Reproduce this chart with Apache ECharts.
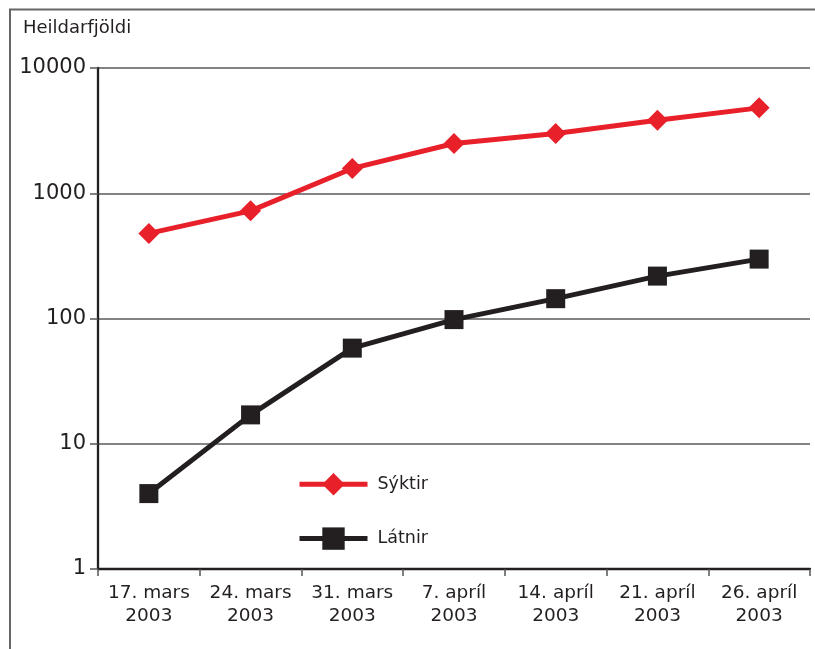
<!DOCTYPE html>
<html>
<head>
<meta charset="utf-8">
<script src="https://cdn.jsdelivr.net/npm/echarts@6/dist/echarts.min.js"></script>
<style>
  html, body { margin: 0; padding: 0; background: #fff; }
  #chart { width: 815px; height: 649px; }
</style>
</head>
<body>
<div id="chart"></div>
<script>
// Dates of the weekly reports (day + month, then year on a second line)
const dates = ['17. mars', '24. mars', '31. mars', '7. apríl', '14. apríl', '21. apríl', '26. apríl'];
const year = '2003';

// Cumulative totals
const syktir = [478, 724, 1578, 2497, 3000, 3833, 4805];
const latnir = [4, 17, 58, 98, 144, 218, 298];

// Log-axis tick labels
const yTicks = [1, 10, 100, 1000, 10000];

const categories = dates.map(d => d + '\n' + year);
const FONT = 'DejaVu Sans';
const INK = '#231f20';
const RED = '#e8202a';

const chart = echarts.init(document.getElementById('chart'), null, { renderer: 'canvas' });

const legendText = { fontFamily: FONT, fontSize: 17.5, color: INK, padding: [0, 0, 0, 5] };

chart.setOption({
  animation: false,
  backgroundColor: '#fff',
  textStyle: { fontFamily: FONT, color: INK },
  graphic: [
    {
      type: 'rect',
      shape: { x: 10, y: 9.5, width: 900, height: 700 },
      style: { fill: 'none', stroke: '#666', lineWidth: 2 },
      silent: true
    },
    {
      type: 'text',
      left: 23,
      top: 19,
      style: { text: 'Heildarfjöldi', font: '18px "DejaVu Sans"', fill: INK }
    }
  ],
  grid: { left: 98, right: 5, top: 68, bottom: 80 },
  legend: {
    orient: 'vertical',
    left: 297,
    top: 473,
    padding: 0,
    itemWidth: 68,
    itemHeight: 28,
    itemGap: 32,
    textStyle: legendText,
    data: [
      { name: 'Sýktir', lineStyle: { width: 5, color: RED }, itemStyle: { color: RED }, textStyle: legendText },
      { name: 'Látnir', lineStyle: { width: 5, color: INK }, itemStyle: { color: INK }, textStyle: legendText }
    ]
  },
  xAxis: {
    type: 'category',
    data: categories,
    boundaryGap: true,
    axisLine: { lineStyle: { color: INK, width: 2.3 } },
    axisTick: { show: true, length: 7, interval: 0, lineStyle: { color: '#555', width: 1.5 } },
    axisLabel: {
      interval: 0,
      margin: 13,
      fontFamily: FONT,
      fontSize: 18.5,
      lineHeight: 22.5,
      color: INK
    },
    splitLine: { show: false }
  },
  yAxis: {
    type: 'log',
    logBase: 10,
    min: yTicks[0],
    max: yTicks[yTicks.length - 1],
    axisLine: { show: true, onZero: false, lineStyle: { color: INK, width: 2.3 } },
    axisTick: { show: true, length: 8, lineStyle: { color: '#555', width: 1.5 } },
    axisLabel: {
      margin: 12,
      fontFamily: FONT,
      fontSize: 21,
      color: INK,
      formatter: v => String(Math.round(v))
    },
    splitLine: { show: true, lineStyle: { color: '#5a5a5a', width: 1.5 } },
    minorTick: { show: false }
  },
  series: [
    {
      name: 'Sýktir',
      type: 'line',
      data: syktir,
      symbol: 'diamond',
      symbolSize: 21,
      lineStyle: { color: RED, width: 5 },
      itemStyle: { color: RED },
      z: 3
    },
    {
      name: 'Látnir',
      type: 'line',
      data: latnir,
      symbol: 'rect',
      symbolSize: 19,
      lineStyle: { color: INK, width: 5 },
      itemStyle: { color: INK },
      z: 3
    }
  ]
});
</script>
</body>
</html>
